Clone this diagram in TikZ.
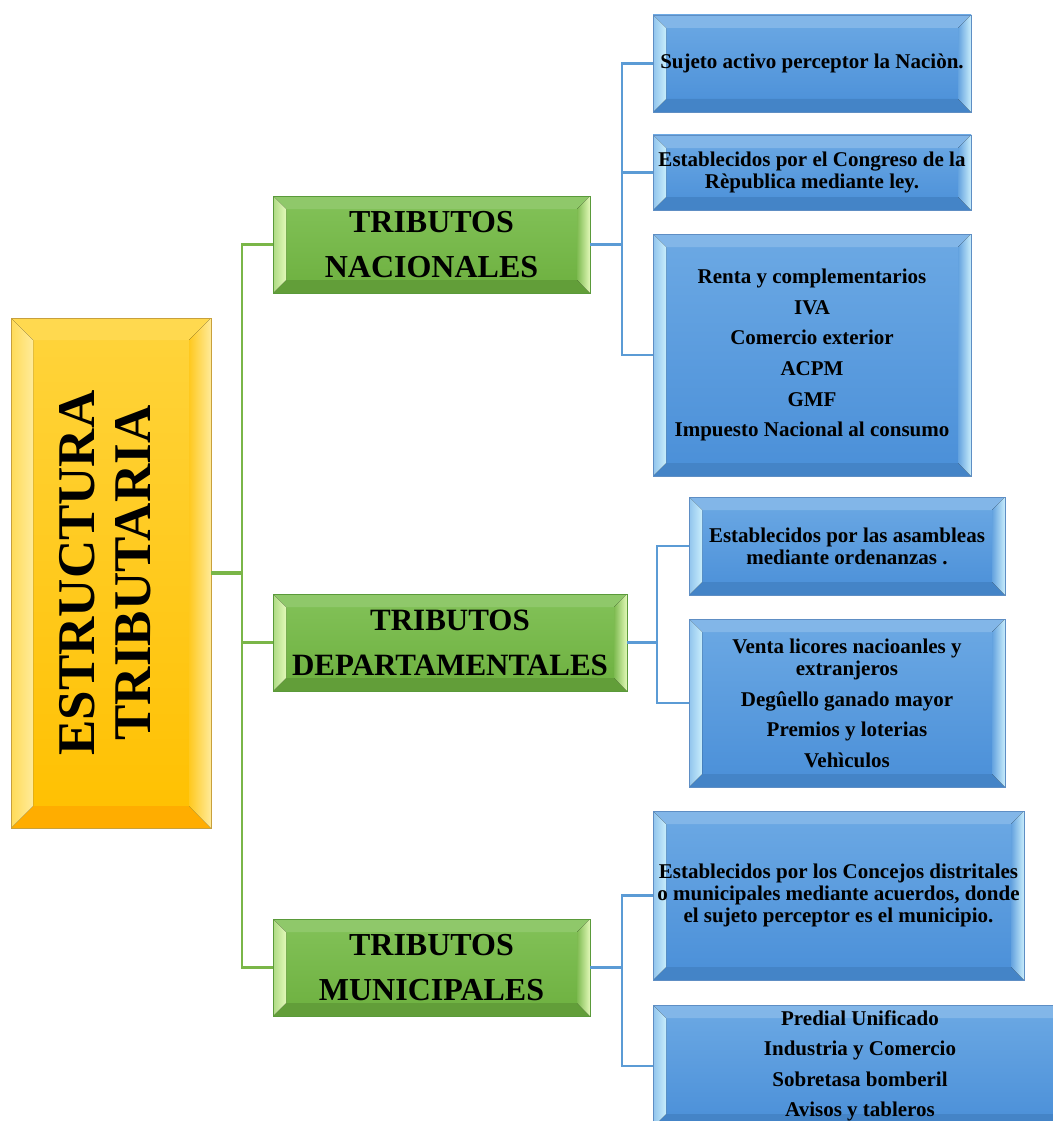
\documentclass[tikz,border=0pt]{standalone}
\usepackage{fontspec}
\setmainfont{Liberation Serif}
\definecolor{bluetop}{HTML}{6CA9E4}
\definecolor{bluebot}{HTML}{4A8FD8}
\definecolor{bluepale}{HTML}{C8EDFB}
\definecolor{blueborder}{HTML}{5E8EC4}
\definecolor{greentop}{HTML}{83C259}
\definecolor{greenbot}{HTML}{6DB03F}
\definecolor{greenpale}{HTML}{E2F9B8}
\definecolor{greenborder}{HTML}{5A9A3A}
\definecolor{yeltop}{HTML}{FFD43C}
\definecolor{yelbot}{HTML}{FFC000}
\definecolor{yelpale}{HTML}{FFEB9A}
\definecolor{yelborder}{HTML}{C8A03C}
\definecolor{gline}{HTML}{7AB648}
\definecolor{bline}{HTML}{5B9BD5}
\newcommand{\bevelfaces}[5]{%
  \path (path picture bounding box.north west) coordinate (pNW)
        (path picture bounding box.north east) coordinate (pNE)
        (path picture bounding box.south west) coordinate (pSW)
        (path picture bounding box.south east) coordinate (pSE);
  \path ([shift={(#1,-#1)}]pNW) coordinate (qNW)
        ([shift={(-#1,-#1)}]pNE) coordinate (qNE)
        ([shift={(#1,#1)}]pSW) coordinate (qSW)
        ([shift={(-#1,#1)}]pSE) coordinate (qSE);
  \fill[#3] (pNW) -- (pNE) -- (qNE) -- (qNW) -- cycle;
  \fill[#5] (pSW) -- (pSE) -- (qSE) -- (qSW) -- cycle;
  \fill[#2] (pNW) -- (qNW) -- (qSW) -- (pSW) -- cycle;
  \fill[#4] (pNE) -- (qNE) -- (qSE) -- (pSE) -- cycle;
}
\tikzset{
  bluebox/.style={draw=blueborder, line width=0.9pt, top color=bluetop, bottom color=bluebot,
    align=center, inner sep=0pt, font=\bfseries\fontsize{21}{22}\selectfont,
    path picture={\bevelfaces{13pt}{left color=bluetop!60!bluepale, right color=bluepale}{fill=bluetop!85!white}{left color=bluebot!80!bluepale, right color=bluepale}{fill=black!8!bluebot}}},
  greenbox/.style={draw=greenborder, line width=0.9pt, top color=greentop, bottom color=greenbot,
    align=center, inner sep=0pt, font=\bfseries\fontsize{32}{45}\selectfont,
    path picture={\bevelfaces{13pt}{left color=greentop!55!greenpale, right color=greenpale}{fill=greentop!90!white}{left color=greenbot!85!greenpale, right color=greenpale}{fill=black!10!greenbot}}},
  yelbox/.style={draw=yelborder, line width=0.9pt, top color=yeltop, bottom color=yelbot,
    align=center, inner sep=0pt, font=\bfseries\fontsize{53}{56}\selectfont,
    path picture={\bevelfaces{22pt}{left color=yeltop!70!yelpale, right color=yelpale}{fill=yeltop!80!yelpale}{left color=yelbot!80!yelpale, right color=yelpale}{fill=orange!30!yelbot}}},
  gconn/.style={draw=gline, line width=2.2pt},
  yconn/.style={draw=gline, line width=3.4pt},
  bconn/.style={draw=bline, line width=2.2pt},
  bstub/.style={draw=bline, line width=3pt},
}
\begin{document}
\begin{tikzpicture}[x=1pt,y=-1pt]
\useasboundingbox (0,0) rectangle (1052,1121);

% main box
\node[yelbox, minimum width=200pt, minimum height=510pt] (yel) at (111,573)
  {\rotatebox{90}{\begin{tabular}{@{}c@{}}ESTRUCTURA\\TRIBUTARIA\end{tabular}}};

% level 2
\node[greenbox, minimum width=317pt, minimum height=97pt] (nac) at (431.5,244.5) {TRIBUTOS\\NACIONALES};
\node[greenbox, minimum width=354pt, minimum height=97pt, font=\bfseries\fontsize{31}{45}\selectfont] (dep) at (450,642.5) {TRIBUTOS\\DEPARTAMENTALES};
\node[greenbox, minimum width=317pt, minimum height=97pt] (mun) at (431.5,967.5) {TRIBUTOS\\MUNICIPALES};

% nacionales
\node[bluebox, minimum width=318pt, minimum height=97pt] (n1) at (812,63.5) {Sujeto activo perceptor la Naciòn.};
\node[bluebox, minimum width=318pt, minimum height=75pt] (n2) at (812,172.5) {Establecidos por el Congreso de la\\Rèpublica mediante ley.};
\node[bluebox, minimum width=318pt, minimum height=242pt, font=\bfseries\fontsize{21}{30.7}\selectfont] (n3) at (812,355)
  {Renta y complementarios\\IVA\\Comercio exterior\\ACPM\\GMF\\Impuesto Nacional al consumo};

% departamentales
\node[bluebox, minimum width=316pt, minimum height=98pt] (d1) at (847,546) {Establecidos por las asambleas\\mediante ordenanzas .};
\node[bluebox, minimum width=316pt, minimum height=168pt] (d2) at (847,703)
  {Venta licores nacioanles y\\extranjeros\\[9pt]Degûello ganado mayor\\[8.5pt]Premios y loterias\\[8.5pt]Vehìculos};

% municipales
\node[bluebox, minimum width=371pt, minimum height=169pt] (m1) at (838.5,895.5)
  {Establecidos por los Concejos distritales\\o municipales mediante acuerdos, donde\\el sujeto perceptor es el municipio.};
\node[bluebox, minimum width=414pt, minimum height=122pt, font=\bfseries\fontsize{21}{30.5}\selectfont] (m2) at (860,1066)
  {Predial Unificado\\Industria y Comercio\\Sobretasa bomberil\\Avisos y tableros};

% green connectors
\coordinate (gt) at (242,573);
\draw[yconn] (yel.east) -- (gt);
\draw[gconn] (nac.west) -| (gt) |- (mun.west);
\draw[gconn] (gt |- dep.west) -- (dep.west);

% blue connectors
\coordinate (bn) at (622,244.5);
\draw[bstub] (nac.east) -- (bn);
\draw[bconn] (n1.west) -| (bn) |- (n3.west);
\draw[bconn] (bn |- n2.west) -- (n2.west);

\coordinate (bd) at (657,642.5);
\draw[bstub] (dep.east) -- (bd);
\draw[bconn] (d1.west) -| (bd) |- (d2.west);

\coordinate (bm) at (622,967.5);
\draw[bstub] (mun.east) -- (bm);
\draw[bconn] (m1.west) -| (bm) |- (m2.west);
\end{tikzpicture}
\end{document}
